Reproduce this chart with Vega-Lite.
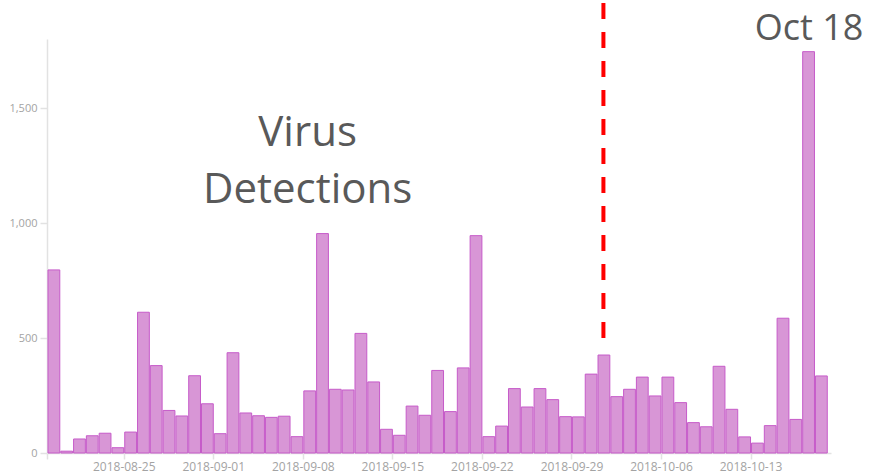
{
  "$schema": "https://vega.github.io/schema/vega-lite/v6.json",
  "width": 784,
  "height": 414,
  "autosize": "none",
  "padding": {"left": 47, "top": 39, "right": 40, "bottom": 23},
  "background": "white",
  "config": {"view": {"stroke": null}, "font": "Open Sans"},
  "datasets": {
    "detections": [
      {"date": "2018-08-19", "count": 796},
      {"date": "2018-08-20", "count": 8},
      {"date": "2018-08-21", "count": 61},
      {"date": "2018-08-22", "count": 75},
      {"date": "2018-08-23", "count": 86},
      {"date": "2018-08-24", "count": 23},
      {"date": "2018-08-25", "count": 91},
      {"date": "2018-08-26", "count": 612},
      {"date": "2018-08-27", "count": 380},
      {"date": "2018-08-28", "count": 185},
      {"date": "2018-08-29", "count": 161},
      {"date": "2018-08-30", "count": 336},
      {"date": "2018-08-31", "count": 214},
      {"date": "2018-09-01", "count": 84},
      {"date": "2018-09-02", "count": 436},
      {"date": "2018-09-03", "count": 174},
      {"date": "2018-09-04", "count": 162},
      {"date": "2018-09-05", "count": 155},
      {"date": "2018-09-06", "count": 160},
      {"date": "2018-09-07", "count": 71},
      {"date": "2018-09-08", "count": 270},
      {"date": "2018-09-09", "count": 954},
      {"date": "2018-09-10", "count": 277},
      {"date": "2018-09-11", "count": 274},
      {"date": "2018-09-12", "count": 520},
      {"date": "2018-09-13", "count": 309},
      {"date": "2018-09-14", "count": 103},
      {"date": "2018-09-15", "count": 77},
      {"date": "2018-09-16", "count": 204},
      {"date": "2018-09-17", "count": 164},
      {"date": "2018-09-18", "count": 359},
      {"date": "2018-09-19", "count": 180},
      {"date": "2018-09-20", "count": 370},
      {"date": "2018-09-21", "count": 945},
      {"date": "2018-09-22", "count": 71},
      {"date": "2018-09-23", "count": 117},
      {"date": "2018-09-24", "count": 280},
      {"date": "2018-09-25", "count": 200},
      {"date": "2018-09-26", "count": 280},
      {"date": "2018-09-27", "count": 232},
      {"date": "2018-09-28", "count": 158},
      {"date": "2018-09-29", "count": 157},
      {"date": "2018-09-30", "count": 343},
      {"date": "2018-10-01", "count": 426},
      {"date": "2018-10-02", "count": 245},
      {"date": "2018-10-03", "count": 277},
      {"date": "2018-10-04", "count": 330},
      {"date": "2018-10-05", "count": 248},
      {"date": "2018-10-06", "count": 330},
      {"date": "2018-10-07", "count": 219},
      {"date": "2018-10-08", "count": 132},
      {"date": "2018-10-09", "count": 114},
      {"date": "2018-10-10", "count": 377},
      {"date": "2018-10-11", "count": 190},
      {"date": "2018-10-12", "count": 70},
      {"date": "2018-10-13", "count": 43},
      {"date": "2018-10-14", "count": 119},
      {"date": "2018-10-15", "count": 586},
      {"date": "2018-10-16", "count": 146},
      {"date": "2018-10-17", "count": 1745},
      {"date": "2018-10-18", "count": 335}
    ],
    "marker": [
      {"date": "2018-10-01T12:00:00Z", "from": 500, "to": 1970}
    ],
    "title": [
      {"date": "2018-09-08T09:00:00Z", "value": 1335, "label": "Virus"},
      {"date": "2018-09-08T09:00:00Z", "value": 1087, "label": "Detections"}
    ],
    "callout": [
      {"date": "2018-10-17T14:00:00Z", "value": 1795, "label": "Oct 18"}
    ]
  },
  "layer": [
    {
      "data": {"name": "detections"},
      "mark": {"type": "bar", "fill": "#d896d6", "stroke": "#c65bc9", "strokeWidth": 1},
      "encoding": {
        "x": {
          "field": "date", "type": "temporal", "timeUnit": "utcyearmonthdate",
          "scale": {"type": "utc", "domain": [
            {"year": 2018, "month": 8, "date": 19, "utc": true},
            {"year": 2018, "month": 10, "date": 19, "hours": 7, "utc": true}
          ]},
          "axis": {
            "title": null, "grid": false,
            "values": [
              {"year": 2018, "month": 8, "date": 19, "utc": true},
              {"year": 2018, "month": 8, "date": 25, "utc": true},
              {"year": 2018, "month": 9, "date": 1, "utc": true},
              {"year": 2018, "month": 9, "date": 8, "utc": true},
              {"year": 2018, "month": 9, "date": 15, "utc": true},
              {"year": 2018, "month": 9, "date": 22, "utc": true},
              {"year": 2018, "month": 9, "date": 29, "utc": true},
              {"year": 2018, "month": 10, "date": 6, "utc": true},
              {"year": 2018, "month": 10, "date": 13, "utc": true}
            ],
            "labelExpr": "datum.value < 1534723200000 ? '' : utcFormat(datum.value, '%Y-%m-%d')",
            "domainColor": "#e2e2e2", "domainWidth": 1.5,
            "tickColor": "#e2e2e2", "tickSize": 6, "tickWidth": 1.5,
            "labelColor": "#a3a3a3", "labelFontSize": 12, "labelPadding": 2,
            "labelFont": "Open Sans", "labelFlush": false, "labelOverlap": false
          }
        },
        "y": {
          "field": "count", "type": "quantitative",
          "scale": {"domain": [0, 1800], "nice": false},
          "axis": {
            "title": null, "grid": false, "values": [0, 500, 1000, 1500], "format": ",d",
            "domainColor": "#e2e2e2", "domainWidth": 1.5,
            "tickColor": "#e2e2e2", "tickSize": 7, "tickWidth": 1.5,
            "labelColor": "#a3a3a3", "labelFontSize": 11, "labelPadding": 3,
            "labelFont": "Open Sans"
          }
        }
      }
    },
    {
      "data": {"name": "marker"},
      "mark": {"type": "rule", "color": "#ff0000", "strokeWidth": 4, "strokeDash": [16, 13], "clip": false},
      "encoding": {
        "x": {"field": "date", "type": "temporal", "scale": {"type": "utc", "domain": [
            {"year": 2018, "month": 8, "date": 19, "utc": true},
            {"year": 2018, "month": 10, "date": 19, "hours": 7, "utc": true}
          ]}},
        "y": {"field": "from", "type": "quantitative", "scale": {"domain": [0, 1800], "nice": false}},
        "y2": {"field": "to"}
      }
    },
    {
      "data": {"name": "title"},
      "mark": {"type": "text", "font": "Open Sans", "fontSize": 42, "color": "#595959", "align": "center", "baseline": "alphabetic", "clip": false},
      "encoding": {
        "x": {"field": "date", "type": "temporal", "scale": {"type": "utc", "domain": [
            {"year": 2018, "month": 8, "date": 19, "utc": true},
            {"year": 2018, "month": 10, "date": 19, "hours": 7, "utc": true}
          ]}},
        "y": {"field": "value", "type": "quantitative", "scale": {"domain": [0, 1800], "nice": false}},
        "text": {"field": "label"}
      }
    },
    {
      "data": {"name": "callout"},
      "mark": {"type": "text", "font": "Open Sans", "fontSize": 36, "color": "#595959", "align": "center", "baseline": "alphabetic", "clip": false},
      "encoding": {
        "x": {"field": "date", "type": "temporal", "scale": {"type": "utc", "domain": [
            {"year": 2018, "month": 8, "date": 19, "utc": true},
            {"year": 2018, "month": 10, "date": 19, "hours": 7, "utc": true}
          ]}},
        "y": {"field": "value", "type": "quantitative", "scale": {"domain": [0, 1800], "nice": false}},
        "text": {"field": "label"}
      }
    }
  ]
}
